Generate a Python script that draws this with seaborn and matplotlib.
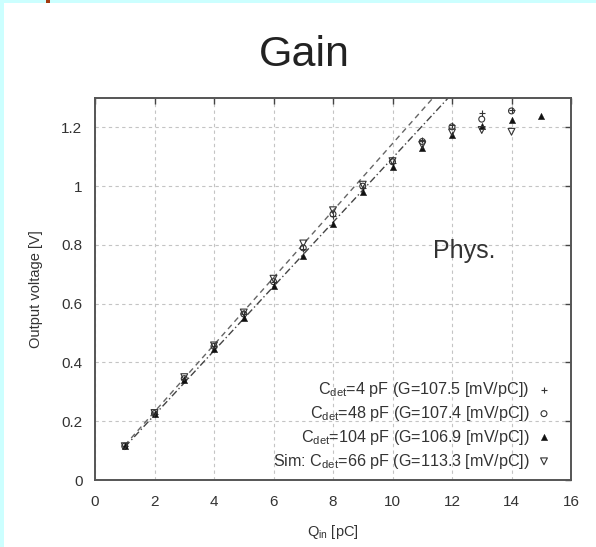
import matplotlib
matplotlib.use("Agg")
import matplotlib.pyplot as plt
from matplotlib.patches import Rectangle
import seaborn as sns
import pandas as pd

# charge injected [pC]
q_meas = [1, 2, 3, 4, 5, 6, 7, 8, 9, 10, 11, 12, 13, 14]
q_104 = [1, 2, 3, 4, 5, 6, 7, 8, 9, 10, 11, 12, 13, 14, 15]

# output voltage [V]
v_c4 = [0.115, 0.226, 0.345, 0.455, 0.565, 0.675, 0.785, 0.900, 0.995, 1.080, 1.157, 1.208, 1.248, 1.259]
v_c48 = [0.115, 0.226, 0.345, 0.455, 0.565, 0.675, 0.790, 0.905, 1.000, 1.083, 1.152, 1.202, 1.228, 1.256]
v_c104 = [0.115, 0.225, 0.340, 0.445, 0.552, 0.660, 0.764, 0.870, 0.980, 1.066, 1.129, 1.174, 1.206, 1.225, 1.240]
v_sim = [0.115, 0.228, 0.350, 0.458, 0.570, 0.685, 0.805, 0.918, 1.005, 1.085, 1.140, 1.183, 1.191, 1.185]

# fit lines (start / where they leave the frame)
fit_meas_x = [1, 11.87]
fit_meas_y = [0.112, 1.30]
fit_sim_x = [1, 11.36]
fit_sim_y = [0.118, 1.30]

labels = [
    r"C$_{det}$=4 pF (G=107.5 [mV/pC])",
    r"C$_{det}$=48 pF (G=107.4 [mV/pC])",
    r"C$_{det}$=104 pF (G=106.9 [mV/pC])",
    r"Sim: C$_{det}$=66 pF (G=113.3 [mV/pC])",
]

sns.set_style("whitegrid")
plt.rcParams["font.family"] = ["Liberation Sans", "DejaVu Sans"]
plt.rcParams["mathtext.fontset"] = "custom"
plt.rcParams["mathtext.rm"] = "Liberation Sans"
plt.rcParams["mathtext.it"] = "Liberation Sans"

fig = plt.figure(figsize=(5.96, 5.47), dpi=100)
fig.patch.set_facecolor("#ccffff")
fig.patches.append(Rectangle((4 / 596, 0), 1, 1 - 3 / 547, transform=fig.transFigure,
                             facecolor="white", edgecolor="none", zorder=-1))
fig.patches.append(Rectangle((46 / 596, 1 - 3 / 547), 4 / 596, 3 / 547, transform=fig.transFigure,
                             facecolor="#a33a10", edgecolor="none", zorder=-1))

ax = fig.add_axes([95 / 596, 1 - 480 / 547, 476 / 596, 382 / 547])
ax.set_facecolor("white")

df_fm = pd.DataFrame({"q": fit_meas_x, "v": fit_meas_y})
df_fs = pd.DataFrame({"q": fit_sim_x, "v": fit_sim_y})
sns.lineplot(data=df_fm, x="q", y="v", ax=ax, color="#444444", lw=1.0, dashes=False)
sns.lineplot(data=df_fs, x="q", y="v", ax=ax, color="#666666", lw=1.0, dashes=False)
ax.lines[0].set_dashes([5, 2, 1, 2])
ax.lines[1].set_dashes([4, 3])

series = [
    (q_meas, v_c4, "+", dict(s=22, color="#333333", linewidths=0.8)),
    (q_meas, v_c48, "o", dict(s=18, facecolors="none", edgecolors="#333333", linewidths=0.8)),
    (q_104, v_c104, "^", dict(s=20, color="#111111", edgecolor="#111111")),
    (q_meas, v_sim, "v", dict(s=24, facecolors="none", edgecolors="#333333", linewidths=0.8)),
]
for (xs, ys, m, kw), lab in zip(series, labels):
    d = pd.DataFrame({"q": xs, "v": ys})
    sns.scatterplot(data=d, x="q", y="v", marker=m, ax=ax, label=lab, zorder=3, **kw)

ax.set_xlim(0, 16)
ax.set_ylim(0, 1.3)
ax.set_xticks(range(0, 17, 2))
ax.set_yticks([0, 0.2, 0.4, 0.6, 0.8, 1.0, 1.2])
ax.set_yticklabels(["0", "0.2", "0.4", "0.6", "0.8", "1", "1.2"])
ax.grid(True, color="#c4c4c4", ls=(0, (3, 3)), lw=0.8)
for s in ax.spines.values():
    s.set_color("#555555")
    s.set_linewidth(1.4)
ax.tick_params(direction="in", length=4, width=1, top=True, right=True,
               labelsize=11, labelcolor="#333333", color="#444444")
ax.tick_params(axis="x", pad=11)
ax.tick_params(axis="y", pad=9)

ax.set_xlabel(r"Q$_{in}$ [pC]", fontsize=10.5, color="#333333", labelpad=10)
ax.set_ylabel("Output voltage [V]", fontsize=10.5, color="#333333", labelpad=13)

leg = ax.legend(loc="lower right", bbox_to_anchor=(0.972, 0.01), frameon=False,
                markerfirst=False, fontsize=11.6, handletextpad=0.4,
                labelspacing=0.3, borderaxespad=0.0, handlelength=1.0, borderpad=0.35)
for t in leg.get_texts():
    t.set_color("#333333")

ax.text(12.4, 0.78, "Phys.", fontsize=18, color="#333333", ha="center", va="center")
fig.text(304 / 596, 1 - 55 / 547, "Gain", fontsize=31, ha="center", va="center", color="#222222")

fig.savefig("out.png", dpi=100)
